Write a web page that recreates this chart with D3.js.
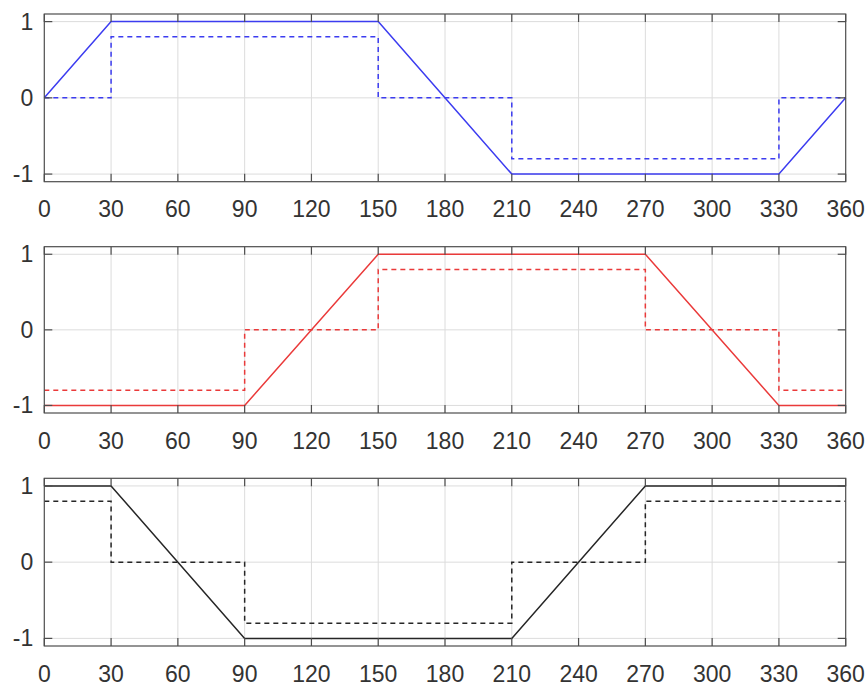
<!DOCTYPE html>
<meta charset="utf-8">
<html>
<style>
body { margin: 0; background: #fff; }
.grid line { stroke: #dcdcdc; stroke-width: 1; }
.frame { fill: none; stroke: #4d4d4d; stroke-width: 1.2; }
.tick-in { stroke: #4d4d4d; stroke-width: 1.2; }
.lbl { font-family: "Liberation Sans", Arial, sans-serif; font-size: 23px; fill: #333; }
</style>
<svg width="867" height="686"></svg>
<script src="https://d3js.org/d3.v7.min.js"></script>
<script>
// x ticks shared by all three panels
var xTicks = [0, 30, 60, 90, 120, 150, 180, 210, 240, 270, 300, 330, 360];
var yTicks = [-1, 0, 1];

// panel 1 (blue)
var angles1 = [0, 30, 150, 210, 330, 360];
var solid1  = [0, 1, 1, -1, -1, 0];
var stepX1  = [0, 30, 30, 150, 150, 210, 210, 330, 330, 360];
var step1   = [0, 0, 0.8, 0.8, 0, 0, -0.8, -0.8, 0, 0];

// panel 2 (red)
var angles2 = [0, 90, 150, 270, 330, 360];
var solid2  = [-1, -1, 1, 1, -1, -1];
var stepX2  = [0, 90, 90, 150, 150, 270, 270, 330, 330, 360];
var step2   = [-0.8, -0.8, 0, 0, 0.8, 0.8, 0, 0, -0.8, -0.8];

// panel 3 (black)
var angles3 = [0, 30, 90, 210, 270, 360];
var solid3  = [1, 1, -1, -1, 1, 1];
var stepX3  = [0, 30, 30, 90, 90, 210, 210, 270, 270, 360];
var step3   = [0.8, 0.8, 0, 0, -0.8, -0.8, 0, 0, 0.8, 0.8];

var svg = d3.select("svg");
var left = 44.3, right = 845.7;
var panels = [
  {top: 14,    bottom: 181.7, ax: angles1, ay: solid1, sx: stepX1, sy: step1, color: "#3c3cf0"},
  {top: 246.7, bottom: 413,   ax: angles2, ay: solid2, sx: stepX2, sy: step2, color: "#ea3a3a"},
  {top: 478.3, bottom: 646,   ax: angles3, ay: solid3, sx: stepX3, sy: step3, color: "#262626"}
];

var x = d3.scaleLinear().domain([0, 360]).range([left, right]);

panels.forEach(function(p) {
  var y = d3.scaleLinear().domain([-1.1, 1.1]).range([p.bottom, p.top]);
  var g = svg.append("g");

  // grid
  var grid = g.append("g").attr("class", "grid");
  grid.selectAll(".gx").data(xTicks.slice(1, -1)).enter().append("line")
      .attr("x1", x).attr("x2", x).attr("y1", p.top).attr("y2", p.bottom);
  grid.selectAll(".gy").data(yTicks).enter().append("line")
      .attr("x1", left).attr("x2", right).attr("y1", y).attr("y2", y);

  // data lines
  var solid = d3.line().x(function(d, i) { return x(p.ax[i]); }).y(function(d) { return y(d); });
  g.append("path").datum(p.ay).attr("d", solid)
      .attr("fill", "none").attr("stroke", p.color).attr("stroke-width", 1.5);
  var dash = d3.line().x(function(d, i) { return x(p.sx[i]); }).y(function(d) { return y(d); });
  g.append("path").datum(p.sy).attr("d", dash)
      .attr("fill", "none").attr("stroke", p.color).attr("stroke-width", 1.5)
      .attr("stroke-dasharray", "5,4");

  // frame
  g.append("rect").attr("class", "frame")
      .attr("x", left).attr("y", p.top).attr("width", right - left).attr("height", p.bottom - p.top);

  // inward ticks, all four sides
  var tl = 8;
  xTicks.forEach(function(t) {
    g.append("line").attr("class", "tick-in").attr("x1", x(t)).attr("x2", x(t)).attr("y1", p.bottom).attr("y2", p.bottom - tl);
    g.append("line").attr("class", "tick-in").attr("x1", x(t)).attr("x2", x(t)).attr("y1", p.top).attr("y2", p.top + tl);
  });
  yTicks.forEach(function(t) {
    g.append("line").attr("class", "tick-in").attr("x1", left).attr("x2", left + tl).attr("y1", y(t)).attr("y2", y(t));
    g.append("line").attr("class", "tick-in").attr("x1", right).attr("x2", right - tl).attr("y1", y(t)).attr("y2", y(t));
  });

  // labels
  g.selectAll(".xl").data(xTicks).enter().append("text").attr("class", "lbl")
      .attr("x", x).attr("y", p.bottom + 35.5).attr("text-anchor", "middle")
      .text(function(d) { return d; });
  g.selectAll(".yl").data(yTicks).enter().append("text").attr("class", "lbl")
      .attr("x", left - 11).attr("y", function(d) { return y(d) + 8; }).attr("text-anchor", "end")
      .text(function(d) { return d; });
});
</script>
</html>
